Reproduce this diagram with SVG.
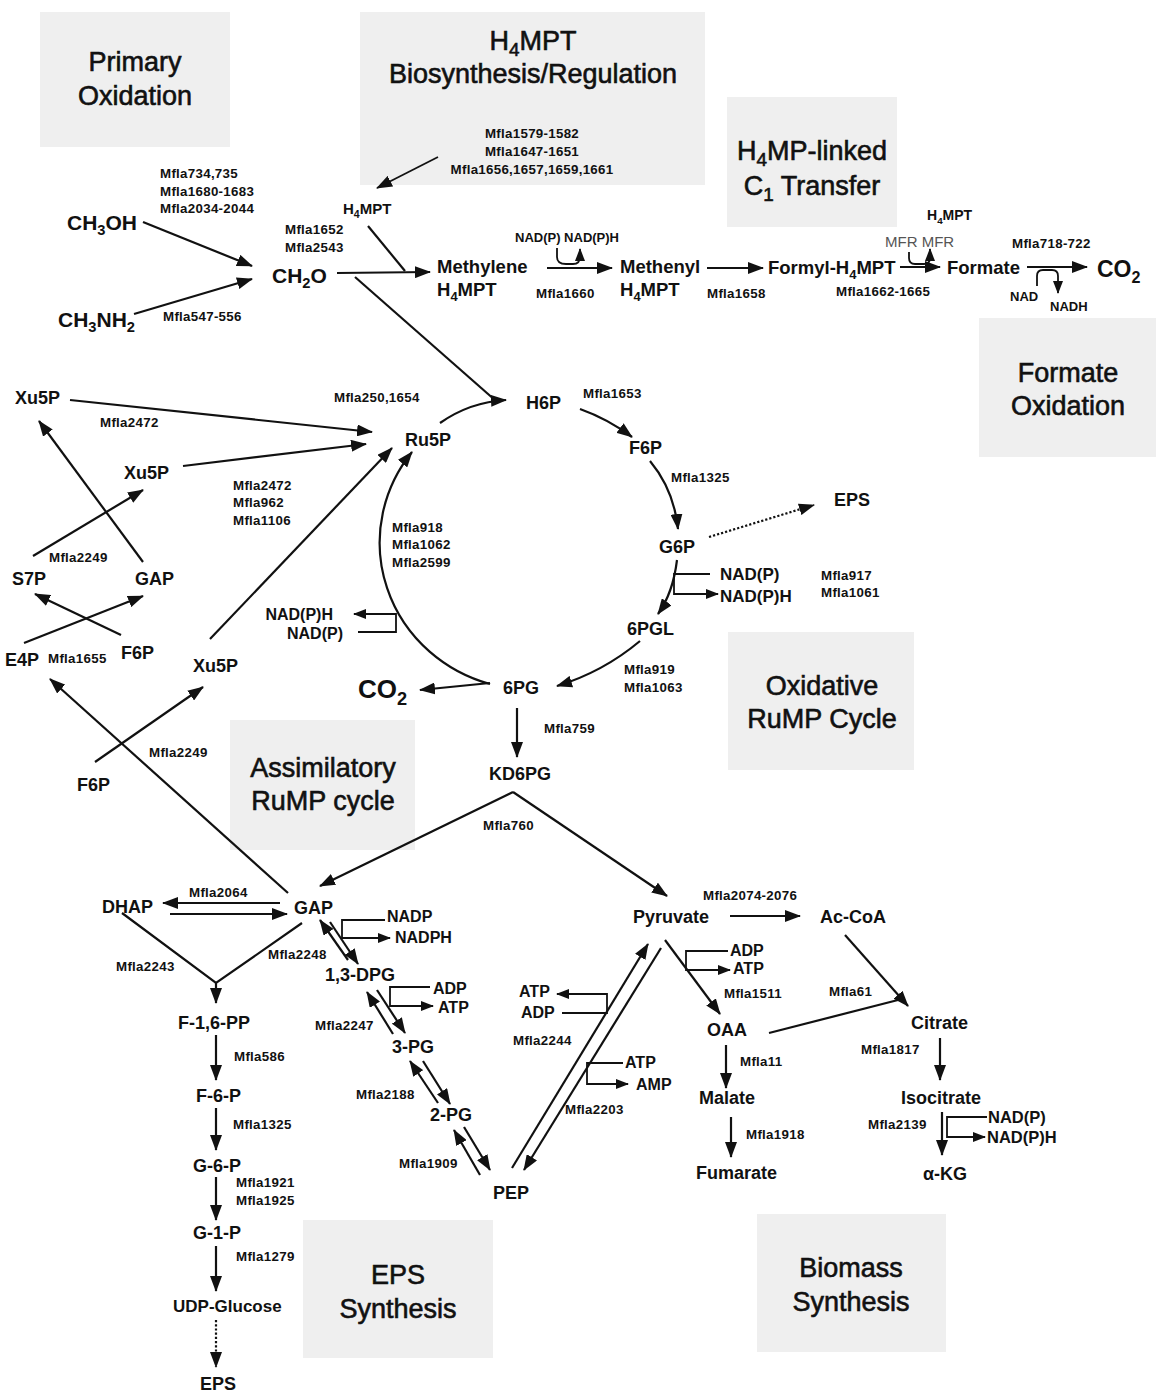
<svg xmlns="http://www.w3.org/2000/svg" width="1156" height="1394" viewBox="0 0 1156 1394">
<defs>
<style>
.bx{fill:#efefef}
text{font-family:"Liberation Sans",Arial,Helvetica,sans-serif;fill:#111}
.t{font-size:27px;text-anchor:middle;stroke:#111;stroke-width:0.6px}
.c{font-size:18px;font-weight:bold}
.L{font-size:21px;font-weight:bold}
.m{font-size:13.3px;font-weight:bold;letter-spacing:0.3px}
.s{font-size:16px;font-weight:bold}
.x{font-size:13px;font-weight:bold}
.sb{font-size:70%}
.ln{fill:none;stroke:#111;stroke-width:2.2}
.br{fill:none;stroke:#111;stroke-width:1.8}
.a{marker-end:url(#ah)}
.b{marker-end:url(#as)}
.d{stroke-dasharray:2.2 2}
</style>
<marker id="ah" viewBox="0 0 16 12" refX="15" refY="6" markerWidth="16" markerHeight="12" markerUnits="userSpaceOnUse" orient="auto"><path d="M0,0 L16,6 L0,12 z" fill="#111"/></marker>
<marker id="as" viewBox="0 0 13 10" refX="12" refY="5" markerWidth="13" markerHeight="10" markerUnits="userSpaceOnUse" orient="auto"><path d="M0,0 L13,5 L0,10 z" fill="#111"/></marker>
</defs>
<rect width="1156" height="1394" fill="#fff"/>

<!-- Title boxes -->
<g id="box-primary-oxidation"><rect class="bx" x="40" y="12" width="190" height="135"/><text class="t" x="135" y="71">Primary</text><text class="t" x="135" y="105">Oxidation</text></g>
<g id="box-h4mpt-biosynthesis"><rect class="bx" x="360" y="12" width="345" height="173"/><text class="t" x="533" y="50">H<tspan class="sb" dy="6">4</tspan><tspan dy="-6">MPT</tspan></text><text class="t" x="533" y="83">Biosynthesis/Regulation</text></g>
<g id="box-c1-transfer"><rect class="bx" x="727" y="97" width="170" height="130"/><text class="t" x="812" y="160">H<tspan class="sb" dy="6">4</tspan><tspan dy="-6">MP-linked</tspan></text><text class="t" x="812" y="195">C<tspan class="sb" dy="6">1</tspan><tspan dy="-6"> Transfer</tspan></text></g>
<g id="box-formate-oxidation"><rect class="bx" x="979" y="318" width="177" height="139"/><text class="t" x="1068" y="382">Formate</text><text class="t" x="1068" y="415">Oxidation</text></g>
<g id="box-oxidative-rump"><rect class="bx" x="728" y="632" width="186" height="138"/><text class="t" x="822" y="695">Oxidative</text><text class="t" x="822" y="728">RuMP Cycle</text></g>
<g id="box-assimilatory-rump"><rect class="bx" x="230" y="720" width="185" height="130"/><text class="t" x="323" y="777">Assimilatory</text><text class="t" x="323" y="810">RuMP cycle</text></g>
<g id="box-eps-synthesis"><rect class="bx" x="303" y="1220" width="190" height="138"/><text class="t" x="398" y="1284">EPS</text><text class="t" x="398" y="1318">Synthesis</text></g>
<g id="box-biomass-synthesis"><rect class="bx" x="757" y="1214" width="189" height="138"/><text class="t" x="851" y="1277">Biomass</text><text class="t" x="851" y="1311">Synthesis</text></g>

<!-- Connectors -->
<g id="connectors">
<path class="ln a" d="M143,222 L252,266"/>
<path class="ln a" d="M134,314 L252,279"/>
<path class="br a" d="M438,157 L377,188"/>
<path class="ln a" d="M337,273 L430,272"/>
<path class="ln" d="M368,226 L405,271"/>
<path class="ln" d="M355,277 L496,401"/>
<path class="ln a" d="M547,268 L612,268"/>
<path class="br b" d="M557,248 L557,257 Q557,264 566,264 L573,264 Q580,264 580,257 L580,249"/>
<path class="ln a" d="M707,268 L763,268"/>
<path class="ln a" d="M900,267 L940,267"/>
<path class="br b" d="M909,252 L909,258 Q909,264 915,264 L924,264 Q930,264 930,258 L930,249"/>
<path class="ln a" d="M1027,267 L1087,267"/>
<path class="br b" d="M1037,286 L1037,276 Q1037,270 1043,270 L1052,270 Q1058,270 1058,276 L1058,293"/>

<path class="ln a" d="M490,684 A152,147 0 0 1 412,452"/>
<path class="ln a" d="M440,423 Q470,402 506,400"/>
<path class="ln a" d="M580,409 Q608,419 632,437"/>
<path class="ln a" d="M650,461 Q674,490 678,529"/>
<path class="ln a" d="M677,560 Q673,593 658,614"/>
<path class="br b" d="M710,574 L674,574 L674,594 L718,594"/>
<path class="ln a" d="M640,641 Q603,672 557,686"/>
<path class="ln a" d="M490,683 L420,690"/>
<path class="ln a" d="M517,708 L517,757"/>
<path class="br b" d="M358,632 L396,632 L396,614 L354,614"/>
<path class="ln a d" d="M709,537 L814,505"/>

<path class="ln a" d="M70,400 L372,432"/>
<path class="ln a" d="M183,466 L366,444"/>
<path class="ln a" d="M210,639 L392,448"/>
<path class="ln a" d="M33,556 L143,490"/>
<path class="ln a" d="M143,562 L39,421"/>
<path class="ln a" d="M121,635 L35,594"/>
<path class="ln a" d="M24,643 L143,596"/>
<path class="ln a" d="M95,762 L203,687"/>
<path class="ln a" d="M288,893 L50,679"/>

<path class="ln a" d="M513,792 L320,886"/>
<path class="ln a" d="M513,792 L667,896"/>

<path class="ln a" d="M280,903 L163,903"/>
<path class="ln a" d="M170,914 L287,914"/>
<path class="ln" d="M122,913 L216,983 L302,923"/>
<path class="ln a" d="M216,983 L216,1003"/>
<path class="ln a" d="M216,1035 L216,1080"/>
<path class="ln a" d="M216,1108 L216,1150"/>
<path class="ln a" d="M216,1177 L216,1220"/>
<path class="ln a" d="M216,1246 L216,1291"/>
<path class="ln a d" d="M216,1320 L216,1367"/>
<path class="br b" d="M385,920 L342,920 L342,938 L390,938"/>
<path class="ln a" d="M348,960 L320,920"/>
<path class="ln a" d="M330,922 L358,964"/>
<path class="br b" d="M430,987 L390,987 L390,1006 L433,1006"/>
<path class="ln a" d="M393,1034 L367,992"/>
<path class="ln a" d="M377,990 L405,1033"/>
<path class="ln a" d="M438,1103 L410,1061"/>
<path class="ln a" d="M423,1061 L450,1104"/>
<path class="ln a" d="M480,1175 L454,1130"/>
<path class="ln a" d="M464,1127 L490,1170"/>

<path class="ln a" d="M512,1168 L648,944"/>
<path class="ln a" d="M661,948 L524,1170"/>
<path class="br b" d="M562,1013 L607,1013 L607,994 L557,994"/>
<path class="br b" d="M623,1063 L587,1063 L587,1084 L628,1084"/>
<path class="ln a" d="M730,916 L800,916"/>
<path class="ln a" d="M665,940 L720,1014"/>
<path class="br b" d="M728,951 L686,951 L686,970 L730,970"/>
<path class="ln a" d="M845,935 L908,1006"/>
<path class="ln" d="M769,1033 L898,1000"/>
<path class="ln a" d="M940,1038 L940,1080"/>
<path class="ln a" d="M942,1112 L942,1155"/>
<path class="br b" d="M987,1117 L947,1117 L947,1137 L985,1137"/>
<path class="ln a" d="M726,1045 L726,1088"/>
<path class="ln a" d="M731,1117 L731,1157"/>
</g>

<!-- Nodes -->
<g id="n-ch3oh"><text class="L" x="67" y="230">CH<tspan class="sb" dy="5">3</tspan><tspan dy="-5">OH</tspan></text></g>
<g id="n-ch3nh2"><text class="L" x="58" y="327">CH<tspan class="sb" dy="5">3</tspan><tspan dy="-5">NH</tspan><tspan class="sb" dy="5">2</tspan></text></g>
<g id="n-ch2o"><text class="L" x="272" y="283">CH<tspan class="sb" dy="5">2</tspan><tspan dy="-5">O</tspan></text></g>
<g id="n-h4mpt-1"><text style="font-size:15px;font-weight:bold" x="343" y="214">H<tspan class="sb" dy="4">4</tspan><tspan dy="-4">MPT</tspan></text></g>
<g id="n-methylene"><text class="c" style="font-size:18.5px" x="437" y="273">Methylene</text><text class="c" style="font-size:18.5px" x="437" y="296">H<tspan class="sb" dy="5">4</tspan><tspan dy="-5">MPT</tspan></text></g>
<g id="n-methenyl"><text class="c" style="font-size:18.5px" x="620" y="273">Methenyl</text><text class="c" style="font-size:18.5px" x="620" y="296">H<tspan class="sb" dy="5">4</tspan><tspan dy="-5">MPT</tspan></text></g>
<g id="n-nadp-1"><text class="x" x="515" y="242">NAD(P) NAD(P)H</text></g>
<g id="n-formyl"><text class="c" style="font-size:18.5px" x="768" y="274">Formyl-H<tspan class="sb" dy="5">4</tspan><tspan dy="-5">MPT</tspan></text></g>
<g id="n-mfr"><text style="font-size:15px;fill:#555" x="885" y="247">MFR MFR</text></g>
<g id="n-h4mpt-2"><text style="font-size:14px;font-weight:bold" x="927" y="220">H<tspan class="sb" dy="4">4</tspan><tspan dy="-4">MPT</tspan></text></g>
<g id="n-formate"><text class="c" style="font-size:18.5px" x="947" y="274">Formate</text></g>
<g id="n-co2-1"><text style="font-size:23px;font-weight:bold" x="1097" y="277">CO<tspan class="sb" dy="6">2</tspan></text></g>
<g id="n-nad"><text class="x" x="1010" y="301">NAD</text></g>
<g id="n-nadh"><text class="x" x="1050" y="311">NADH</text></g>

<g id="n-xu5p-1"><text class="c" x="15" y="404">Xu5P</text></g>
<g id="n-xu5p-2"><text class="c" x="124" y="479">Xu5P</text></g>
<g id="n-s7p"><text class="c" x="12" y="585">S7P</text></g>
<g id="n-gap-1"><text class="c" x="135" y="585">GAP</text></g>
<g id="n-e4p"><text class="c" x="5" y="666">E4P</text></g>
<g id="n-f6p-1"><text class="c" x="121" y="659">F6P</text></g>
<g id="n-xu5p-3"><text class="c" x="193" y="672">Xu5P</text></g>
<g id="n-f6p-2"><text class="c" x="77" y="791">F6P</text></g>

<g id="n-ru5p"><text class="c" x="405" y="446">Ru5P</text></g>
<g id="n-h6p"><text class="c" x="526" y="409">H6P</text></g>
<g id="n-f6p-3"><text class="c" x="629" y="454">F6P</text></g>
<g id="n-g6p"><text class="c" x="659" y="553">G6P</text></g>
<g id="n-6pgl"><text class="c" x="627" y="635">6PGL</text></g>
<g id="n-6pg"><text class="c" x="503" y="694">6PG</text></g>
<g id="n-kd6pg"><text class="c" x="489" y="780">KD6PG</text></g>
<g id="n-nadp-2"><text class="c" style="font-size:17px" x="720" y="580">NAD(P)</text><text class="c" style="font-size:17px" x="720" y="602">NAD(P)H</text></g>
<g id="n-nadp-3"><text class="s" x="333" y="620" text-anchor="end">NAD(P)H</text><text class="s" x="343" y="639" text-anchor="end">NAD(P)</text></g>
<g id="n-co2-2"><text style="font-size:26px;font-weight:bold" x="358" y="698">CO<tspan class="sb" dy="7">2</tspan></text></g>
<g id="n-eps-1"><text class="c" x="834" y="506">EPS</text></g>

<g id="n-dhap"><text class="c" x="102" y="913">DHAP</text></g>
<g id="n-gap-2"><text class="c" x="294" y="914">GAP</text></g>
<g id="n-f16pp"><text class="c" x="178" y="1029">F-1,6-PP</text></g>
<g id="n-f-6-p"><text class="c" x="196" y="1102">F-6-P</text></g>
<g id="n-g-6-p"><text class="c" x="193" y="1172">G-6-P</text></g>
<g id="n-g-1-p"><text class="c" x="193" y="1239">G-1-P</text></g>
<g id="n-udpg"><text class="c" style="font-size:17px" x="173" y="1312">UDP-Glucose</text></g>
<g id="n-eps-2"><text class="c" x="200" y="1390">EPS</text></g>
<g id="n-nadp-4"><text class="s" x="387" y="922">NADP</text><text class="s" x="395" y="943">NADPH</text></g>
<g id="n-13dpg"><text class="c" x="325" y="981">1,3-DPG</text></g>
<g id="n-adp-atp-1"><text class="s" x="433" y="994">ADP</text><text class="s" x="438" y="1013">ATP</text></g>
<g id="n-3pg"><text class="c" x="392" y="1053">3-PG</text></g>
<g id="n-2pg"><text class="c" x="430" y="1121">2-PG</text></g>
<g id="n-pep"><text class="c" x="493" y="1199">PEP</text></g>

<g id="n-pyruvate"><text class="c" x="633" y="923">Pyruvate</text></g>
<g id="n-accoa"><text class="c" x="820" y="923">Ac-CoA</text></g>
<g id="n-adp-atp-2"><text class="s" x="730" y="956">ADP</text><text class="s" x="733" y="974">ATP</text></g>
<g id="n-atp-adp-3"><text class="s" x="519" y="997">ATP</text><text class="s" x="521" y="1018">ADP</text></g>
<g id="n-atp-amp"><text class="s" x="625" y="1068">ATP</text><text class="s" x="636" y="1090">AMP</text></g>
<g id="n-oaa"><text class="c" x="707" y="1036">OAA</text></g>
<g id="n-citrate"><text class="c" x="911" y="1029">Citrate</text></g>
<g id="n-isocitrate"><text class="c" x="901" y="1104">Isocitrate</text></g>
<g id="n-akg"><text class="c" x="923" y="1180">α-KG</text></g>
<g id="n-nadp-5"><text class="s" style="font-size:16.5px" x="988" y="1123">NAD(P)</text><text class="s" style="font-size:16.5px" x="987" y="1143">NAD(P)H</text></g>
<g id="n-malate"><text class="c" x="699" y="1104">Malate</text></g>
<g id="n-fumarate"><text class="c" x="696" y="1179">Fumarate</text></g>

<!-- Enzyme labels -->
<g id="enzyme-labels">
<text class="m" x="160" y="178">Mfla734,735</text>
<text class="m" x="160" y="196">Mfla1680-1683</text>
<text class="m" x="160" y="213">Mfla2034-2044</text>
<text class="m" x="163" y="321">Mfla547-556</text>
<text class="m" x="285" y="234">Mfla1652</text>
<text class="m" x="285" y="252">Mfla2543</text>
<text class="m" x="532" y="138" text-anchor="middle">Mfla1579-1582</text>
<text class="m" x="532" y="156" text-anchor="middle">Mfla1647-1651</text>
<text class="m" x="532" y="174" text-anchor="middle">Mfla1656,1657,1659,1661</text>
<text class="m" x="536" y="298">Mfla1660</text>
<text class="m" x="707" y="298">Mfla1658</text>
<text class="m" x="836" y="296">Mfla1662-1665</text>
<text class="m" x="1012" y="248">Mfla718-722</text>
<text class="m" x="334" y="402">Mfla250,1654</text>
<text class="m" x="583" y="398">Mfla1653</text>
<text class="m" x="100" y="427">Mfla2472</text>
<text class="m" x="233" y="490">Mfla2472</text>
<text class="m" x="233" y="507">Mfla962</text>
<text class="m" x="233" y="525">Mfla1106</text>
<text class="m" x="671" y="482">Mfla1325</text>
<text class="m" x="392" y="532">Mfla918</text>
<text class="m" x="392" y="549">Mfla1062</text>
<text class="m" x="392" y="567">Mfla2599</text>
<text class="m" x="821" y="580">Mfla917</text>
<text class="m" x="821" y="597">Mfla1061</text>
<text class="m" x="49" y="562">Mfla2249</text>
<text class="m" x="48" y="663">Mfla1655</text>
<text class="m" x="624" y="674">Mfla919</text>
<text class="m" x="624" y="692">Mfla1063</text>
<text class="m" x="544" y="733">Mfla759</text>
<text class="m" x="149" y="757">Mfla2249</text>
<text class="m" x="483" y="830">Mfla760</text>
<text class="m" x="189" y="897">Mfla2064</text>
<text class="m" x="116" y="971">Mfla2243</text>
<text class="m" x="268" y="959">Mfla2248</text>
<text class="m" x="315" y="1030">Mfla2247</text>
<text class="m" x="234" y="1061">Mfla586</text>
<text class="m" x="356" y="1099">Mfla2188</text>
<text class="m" x="233" y="1129">Mfla1325</text>
<text class="m" x="399" y="1168">Mfla1909</text>
<text class="m" x="236" y="1187">Mfla1921</text>
<text class="m" x="236" y="1205">Mfla1925</text>
<text class="m" x="236" y="1261">Mfla1279</text>
<text class="m" x="703" y="900">Mfla2074-2076</text>
<text class="m" x="724" y="998">Mfla1511</text>
<text class="m" x="829" y="996">Mfla61</text>
<text class="m" x="513" y="1045">Mfla2244</text>
<text class="m" x="740" y="1066">Mfla11</text>
<text class="m" x="861" y="1054">Mfla1817</text>
<text class="m" x="565" y="1114">Mfla2203</text>
<text class="m" x="868" y="1129">Mfla2139</text>
<text class="m" x="746" y="1139">Mfla1918</text>
</g>
</svg>
